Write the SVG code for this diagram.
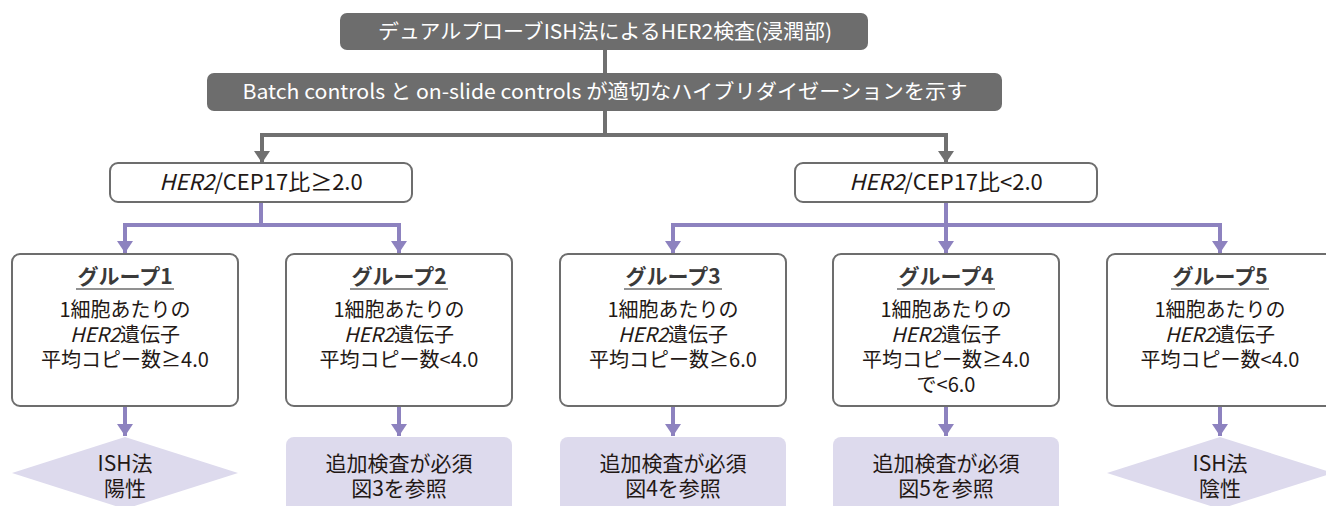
<svg xmlns="http://www.w3.org/2000/svg" width="1326" height="506" viewBox="0 0 1326 506">
<defs>
<style>
text{font-family:"Noto Sans CJK JP","Noto Sans",sans-serif;fill:#231815;text-anchor:middle}
.hd{fill:#6d6d6d}
.hdt{fill:#ffffff;font-size:20.5px}
.cond{fill:#fff;stroke:#6d6d6d;stroke-width:2}
.ct{font-size:22px}
.grp{fill:#fff;stroke:#6d6d6d;stroke-width:2}
.gt{font-size:21px;font-weight:bold;fill:#3a3a3a}
.bt{font-size:20px}
.res{fill:#dddaed}
.rt{font-size:21px}
.ul{stroke:#6d6d6d;stroke-width:1.5}
.g{fill:none;stroke:#707070;stroke-width:4}
.p{fill:none;stroke:#8d82bf;stroke-width:4}
</style>
<marker id="ap" markerUnits="userSpaceOnUse" markerWidth="16" markerHeight="14" viewBox="0 0 16 14" refX="8" refY="12" orient="0">
<path d="M0 0 L16 0 L8 12 Z" fill="#8d82bf"/>
</marker>
<marker id="agd" markerUnits="userSpaceOnUse" markerWidth="16" markerHeight="14" viewBox="0 0 16 14" refX="8" refY="12" orient="0">
<path d="M0 0 L16 0 L8 12 Z" fill="#707070"/>
</marker>
</defs>

<g id="connectors">
<path class="g" d="M605 50 V73"/>
<path class="g" d="M605 111 V135"/>
<path class="g" d="M605 135 H262 V163" marker-end="url(#agd)"/>
<path class="g" d="M605 135 H946 V163" marker-end="url(#agd)"/>
<path class="p" d="M261 202 V225 H125 V253" marker-end="url(#ap)"/>
<path class="p" d="M261 225 H399 V253" marker-end="url(#ap)"/>
<path class="p" d="M946 202 V225 H673 V253" marker-end="url(#ap)"/>
<path class="p" d="M946 225 V253" marker-end="url(#ap)"/>
<path class="p" d="M946 225 H1220 V253" marker-end="url(#ap)"/>
<path class="p" d="M125 406 V436" marker-end="url(#ap)"/>
<path class="p" d="M399 406 V436" marker-end="url(#ap)"/>
<path class="p" d="M673 406 V436" marker-end="url(#ap)"/>
<path class="p" d="M946 406 V436" marker-end="url(#ap)"/>
<path class="p" d="M1220 406 V436" marker-end="url(#ap)"/>
</g>

<g id="n-top">
<rect class="hd" x="340" y="13" width="528" height="37" rx="7"/>
<text class="hdt" x="605" y="39" textLength="454" lengthAdjust="spacingAndGlyphs">デュアルプローブISH法によるHER2検査(浸潤部)</text>
</g>
<g id="n-batch">
<rect class="hd" x="207" y="73" width="795" height="38" rx="7"/>
<text class="hdt" x="605" y="99" font-size="21" textLength="725" lengthAdjust="spacingAndGlyphs">Batch controls と on-slide controls が適切なハイブリダイゼーションを示す</text>
</g>

<g id="n-ratio-high">
<rect class="cond" x="110" y="163" width="302" height="39" rx="8"/>
<text class="ct" x="261" y="190"><tspan font-style="italic">HER2</tspan>/CEP17比≥2.0</text>
</g>
<g id="n-ratio-low">
<rect class="cond" x="795" y="163" width="302" height="39" rx="8"/>
<text class="ct" x="946" y="190"><tspan font-style="italic">HER2</tspan>/CEP17比&lt;2.0</text>
</g>

<g id="n-g1">
<rect class="grp" x="12" y="254" width="226" height="152" rx="8"/>
<text class="gt" x="125" y="284">グループ1</text>
<line class="ul" x1="76" y1="289" x2="174" y2="289"/>
<text class="bt" x="125" y="317">1細胞あたりの<tspan x="125" dy="25"><tspan font-style="italic">HER2</tspan>遺伝子</tspan><tspan x="125" dy="25">平均コピー数≥4.0</tspan></text>
</g>
<g id="n-g2">
<rect class="grp" x="286" y="254" width="226" height="152" rx="8"/>
<text class="gt" x="399" y="284">グループ2</text>
<line class="ul" x1="350" y1="289" x2="448" y2="289"/>
<text class="bt" x="399" y="317">1細胞あたりの<tspan x="399" dy="25"><tspan font-style="italic">HER2</tspan>遺伝子</tspan><tspan x="399" dy="25">平均コピー数&lt;4.0</tspan></text>
</g>
<g id="n-g3">
<rect class="grp" x="560" y="254" width="226" height="152" rx="8"/>
<text class="gt" x="673" y="284">グループ3</text>
<line class="ul" x1="624" y1="289" x2="722" y2="289"/>
<text class="bt" x="673" y="317">1細胞あたりの<tspan x="673" dy="25"><tspan font-style="italic">HER2</tspan>遺伝子</tspan><tspan x="673" dy="25">平均コピー数≥6.0</tspan></text>
</g>
<g id="n-g4">
<rect class="grp" x="833" y="254" width="226" height="152" rx="8"/>
<text class="gt" x="946" y="284">グループ4</text>
<line class="ul" x1="897" y1="289" x2="995" y2="289"/>
<text class="bt" x="946" y="317">1細胞あたりの<tspan x="946" dy="25"><tspan font-style="italic">HER2</tspan>遺伝子</tspan><tspan x="946" dy="25">平均コピー数≥4.0</tspan><tspan x="946" dy="25">で&lt;6.0</tspan></text>
</g>
<g id="n-g5">
<rect class="grp" x="1107" y="254" width="226" height="152" rx="8"/>
<text class="gt" x="1220" y="284">グループ5</text>
<line class="ul" x1="1171" y1="289" x2="1269" y2="289"/>
<text class="bt" x="1220" y="317">1細胞あたりの<tspan x="1220" dy="25"><tspan font-style="italic">HER2</tspan>遺伝子</tspan><tspan x="1220" dy="25">平均コピー数&lt;4.0</tspan></text>
</g>

<g id="n-r1">
<polygon class="res" points="125,437 238,473 125,509 12,473"/>
<text class="rt" x="125" y="471">ISH法<tspan x="125" dy="25">陽性</tspan></text>
</g>
<g id="n-r2">
<rect class="res" x="286" y="437" width="226" height="80" rx="8"/>
<text class="rt" x="399" y="471">追加検査が必須<tspan x="399" dy="25">図3を参照</tspan></text>
</g>
<g id="n-r3">
<rect class="res" x="560" y="437" width="226" height="80" rx="8"/>
<text class="rt" x="673" y="471">追加検査が必須<tspan x="673" dy="25">図4を参照</tspan></text>
</g>
<g id="n-r4">
<rect class="res" x="833" y="437" width="226" height="80" rx="8"/>
<text class="rt" x="946" y="471">追加検査が必須<tspan x="946" dy="25">図5を参照</tspan></text>
</g>
<g id="n-r5">
<polygon class="res" points="1220,437 1333,473 1220,509 1107,473"/>
<text class="rt" x="1220" y="471">ISH法<tspan x="1220" dy="25">陰性</tspan></text>
</g>
</svg>
